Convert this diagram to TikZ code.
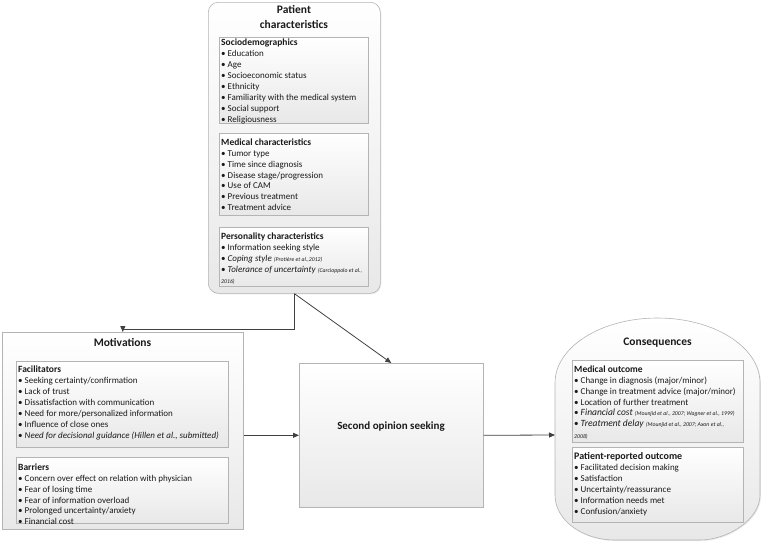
\documentclass[tikz,border=0pt]{standalone}
\usepackage{fontspec}
\setmainfont{Carlito}
\usetikzlibrary{arrows.meta,shadows,calc}
\definecolor{edgegray}{HTML}{B4B4B4}
\definecolor{arrgray}{HTML}{404040}
\definecolor{txtc}{HTML}{1A1A1A}
\newcommand{\refcite}[1]{{\fontsize{5.8}{6.5}\selectfont\itshape #1}}
\newcommand{\hdr}[1]{{\bfseries\fontsize{9.5}{10.9}\selectfont #1}}
\begin{document}
\begin{tikzpicture}[x=1pt,y=-1pt,
  shade/.style={top color=white, bottom color=black!9},
  outerbox/.style={draw=edgegray, line width=0.6pt, shade, drop shadow={opacity=0.18,shadow xshift=1pt,shadow yshift=-1pt}, inner sep=0pt, anchor=north west},
  innerbox/.style={draw=edgegray, line width=0.6pt, shade, drop shadow={opacity=0.15,shadow xshift=0.8pt,shadow yshift=-0.8pt}, inner sep=0pt, anchor=north west},
  txt/.style={anchor=north west, inner sep=0pt, align=left, text=txtc, font=\fontsize{9}{10.9}\selectfont},
  ttl/.style={inner sep=0pt, align=center, text=txtc, font=\fontsize{11.5}{15}\selectfont\bfseries},
  arr/.style={draw=arrgray, line width=0.8pt, -{Triangle[length=6pt,width=5pt]}}]
\useasboundingbox (0,0) rectangle (761,554);

% Patient characteristics
\node[outerbox, rounded corners=10pt, minimum width=172pt, minimum height=291pt] (pc) at (208,2) {};
\node[ttl] (pct) at (294,16.5) {Patient\\characteristics};
\node[innerbox, minimum width=149pt, minimum height=86pt] (soc) at (219,37) {};
\node[txt] (soct) at (221,39) {\hdr{Sociodemographics}\\
• Education\\ • Age\\ • Socioeconomic status\\ • Ethnicity\\ • Familiarity with the medical system\\ • Social support\\ • Religiousness};
\node[innerbox, minimum width=149pt, minimum height=82pt] (med) at (219,133) {};
\node[txt] (medt) at (221,138.5) {\hdr{Medical characteristics}\\
• Tumor type\\ • Time since diagnosis\\ • Disease stage/progression\\ • Use of CAM\\ • Previous treatment\\ • Treatment advice};
\node[innerbox, minimum width=149pt, minimum height=59pt] (per) at (219,227) {};
\node[txt] (pert) at (221,233) {\hdr{Personality characteristics}\\
• Information seeking style\\
• \textit{Coping style} \refcite{(Protière et al.,2012)}\\
• \textit{Tolerance of uncertainty} \refcite{(Carcioppolo et al.,}\\[0.5pt]
\refcite{2016)}};

% Motivations
\node[outerbox, minimum width=241pt, minimum height=197pt] (mot) at (2,332) {};
\node[ttl] (mott) at (122.5,342) {Motivations};
\node[innerbox, minimum width=212pt, minimum height=86pt] (fac) at (16,361) {};
\node[txt] (fact) at (18,366) {\hdr{Facilitators}\\
• Seeking certainty/confirmation\\ • Lack of trust\\ • Dissatisfaction with communication\\ • Need for more/personalized information\\ • Influence of close ones\\ • \textit{Need for decisional guidance (Hillen et al., submitted)}};
\node[innerbox, minimum width=212pt, minimum height=66pt] (bar) at (16,457) {};
\node[txt] (bart) at (18,463.5) {\hdr{Barriers}\\
• Concern over effect on relation with physician\\ • Fear of losing time\\ • Fear of information overload\\ • Prolonged uncertainty/anxiety\\ • Financial cost};

% Second opinion seeking
\node[outerbox, minimum width=184pt, minimum height=144pt] (sos) at (299,363) {};
\node[inner sep=0pt, text=txtc, font=\fontsize{11}{12}\selectfont\bfseries] (sost) at (391,427) {Second opinion seeking};

% Consequences
\path[draw=edgegray, line width=0.6pt, shade, drop shadow={opacity=0.18,shadow xshift=1pt,shadow yshift=-1pt}]
  (555,383) .. controls (555,347) and (601,318) .. (657.5,318)
  .. controls (714,318) and (760,347) .. (760,383)
  -- (760,495) .. controls (760,520) and (727,540) .. (700,540)
  -- (615,540) .. controls (582,540) and (555,520) .. (555,495) -- cycle;
\coordinate (consw) at (555,435);
\node[ttl] (const) at (657.5,343) {Consequences};
\node[innerbox, minimum width=171pt, minimum height=82pt] (mo) at (572,360) {};
\node[txt] (mot2) at (574,365.5) {\hdr{Medical outcome}\\
• Change in diagnosis (major/minor)\\ • Change in treatment advice (major/minor)\\ • Location of further treatment\\
• {\fontsize{9.5}{10.9}\selectfont\textit{Financial cost}} \refcite{(Mounjid et al., 2007; Wagner et al., 1999)}\\
• {\fontsize{9.5}{10.9}\selectfont\textit{Treatment delay}} \refcite{(Mounjid et al., 2007; Axon et al.,}\\[1pt]
\refcite{2008)}};
\node[innerbox, minimum width=171pt, minimum height=75pt] (pro) at (572,447) {};
\node[txt] (prot) at (574,452.5) {{\bfseries\fontsize{10}{10.9}\selectfont Patient-reported outcome}\\
• Facilitated decision making\\ • Satisfaction\\ • Uncertainty/reassurance\\ • Information needs met\\ • Confusion/anxiety};

% Connectors
\draw[arr] (pc.south) -- (pc.south |- 0,329) -| (mot.north);
\draw[arr] (pc.south) -- (sos.north);
\draw[arr] (sos.west -| mot.east) -- (sos.west);
\draw[arr] (sos.east) -- (consw);
\end{tikzpicture}
\end{document}
